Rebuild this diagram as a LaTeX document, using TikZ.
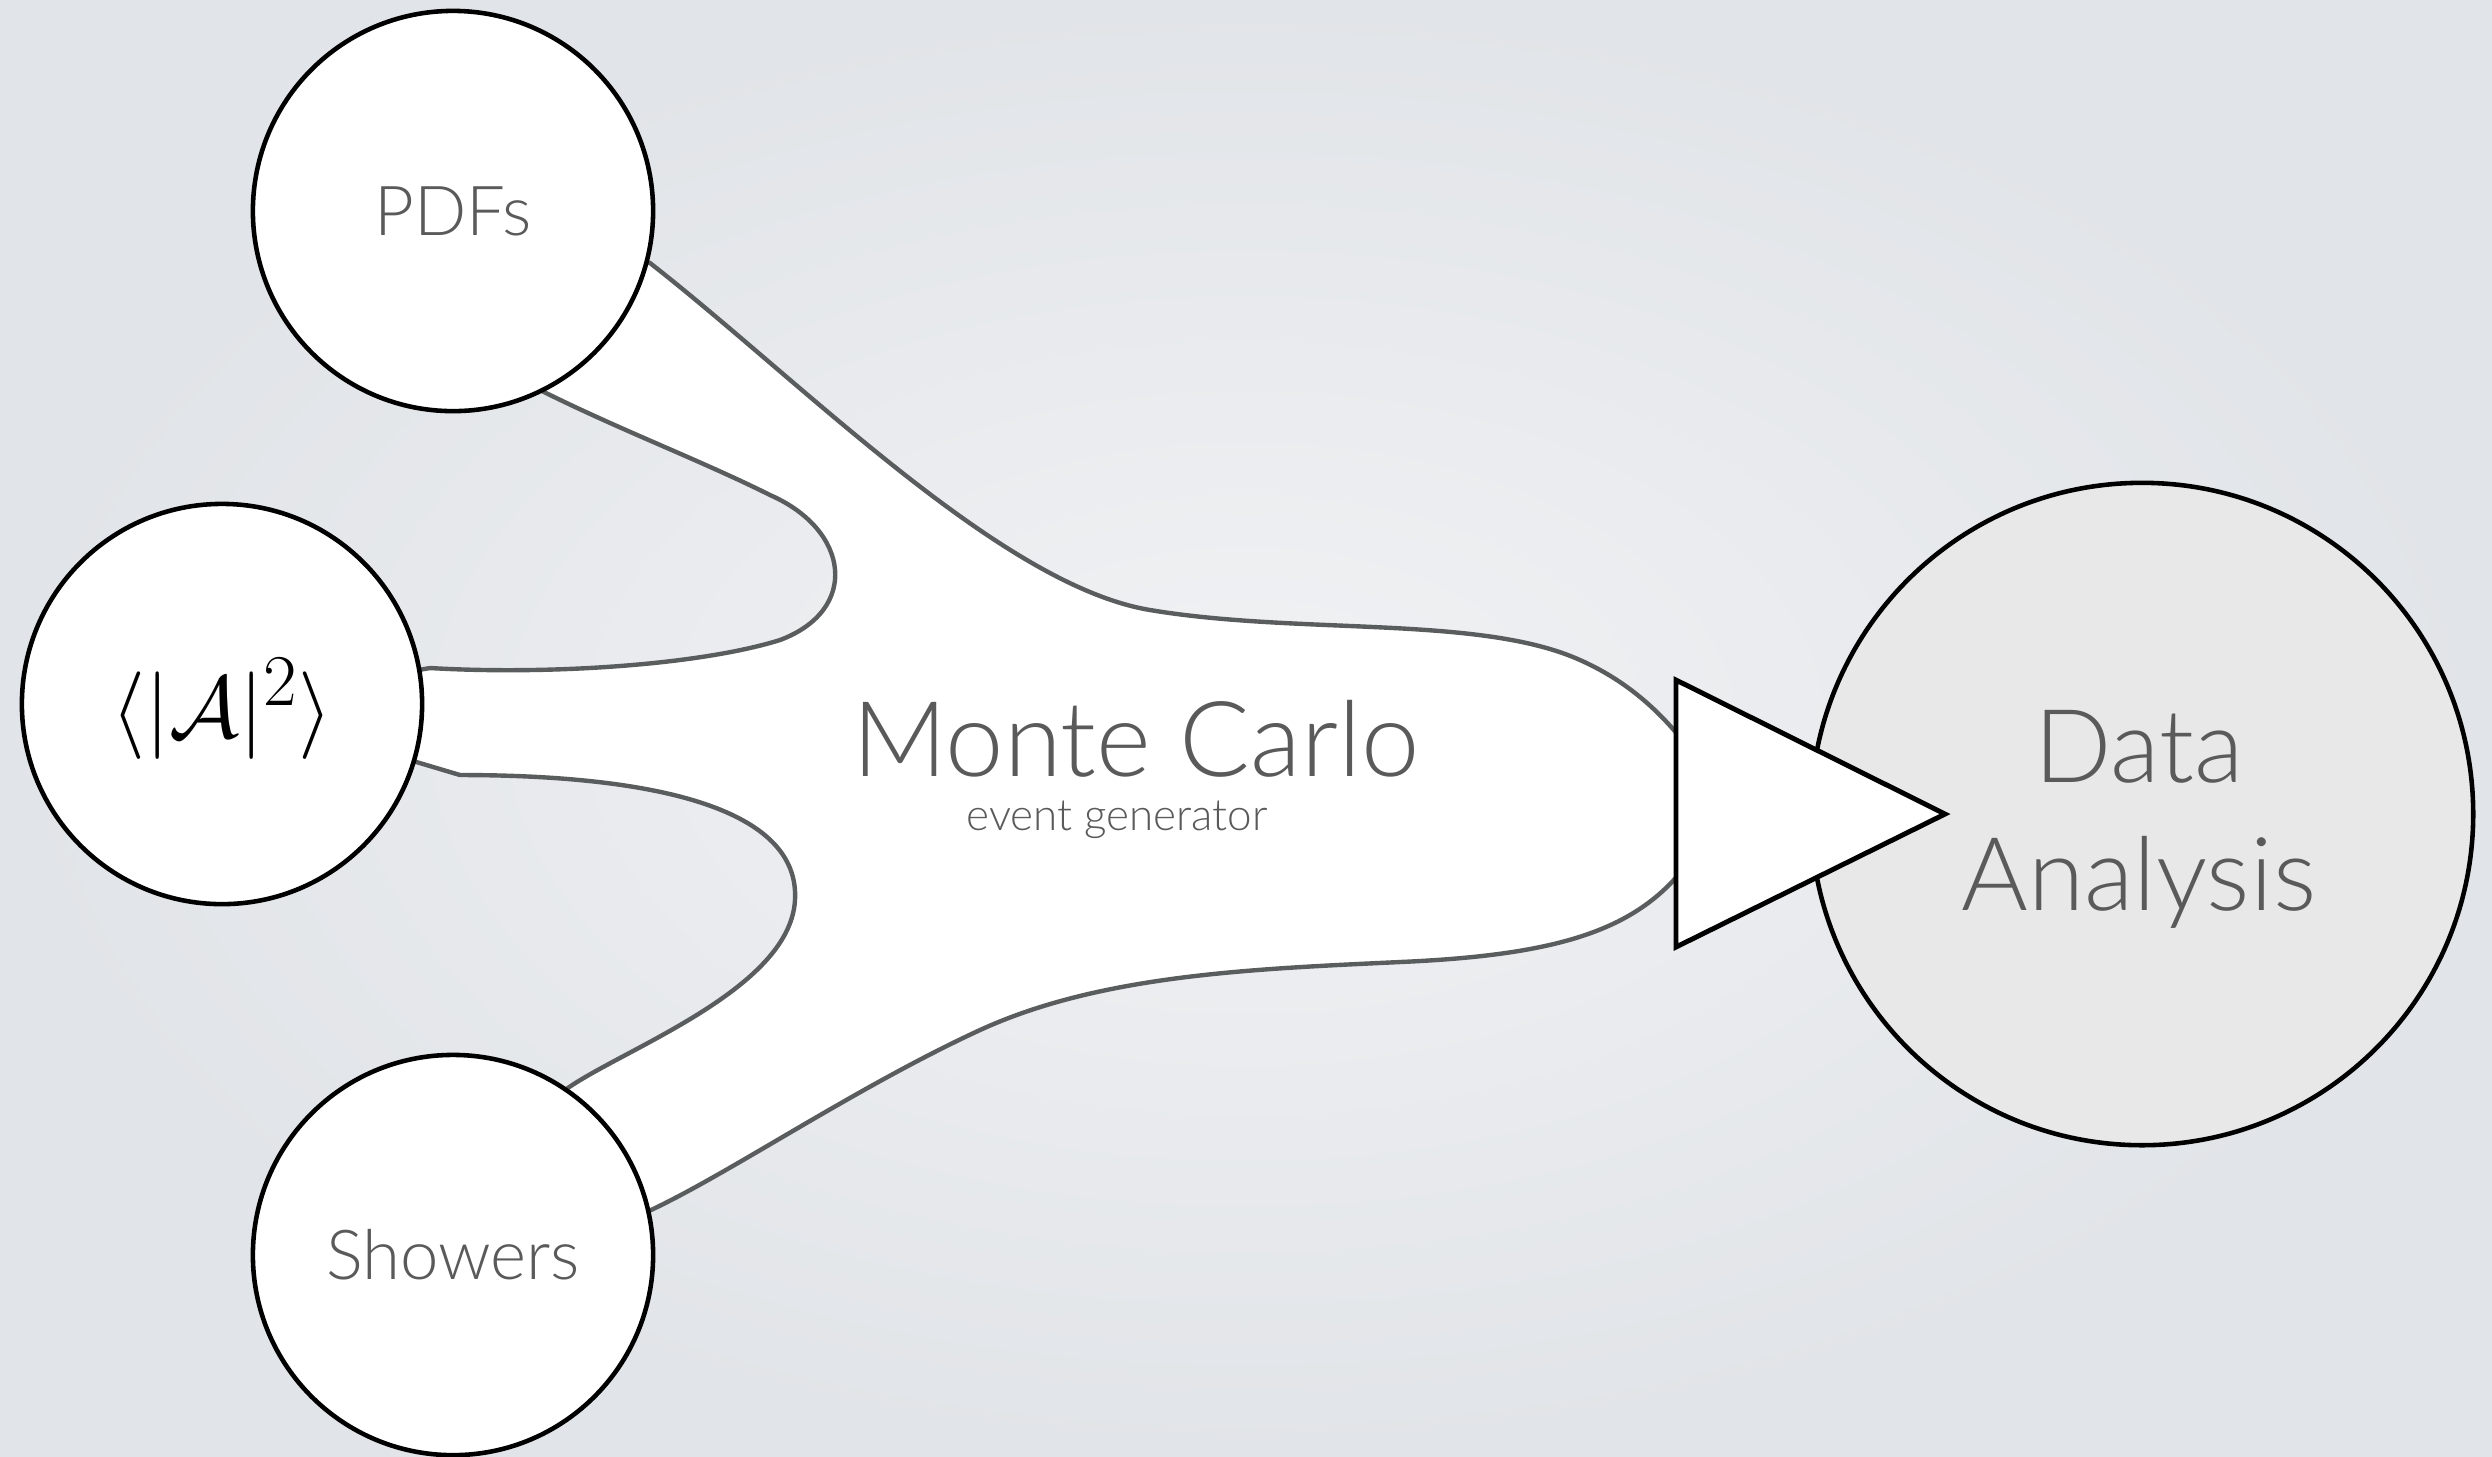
\documentclass[tikz,border=0pt]{standalone}
\usepackage{fontspec}
\newfontfamily\gill{Lato Light}
\definecolor{bgin}{HTML}{F1F2F4}
\definecolor{bgout}{HTML}{E1E4E8}
\definecolor{edge}{HTML}{5A5D5D}
\definecolor{txt}{HTML}{5A5A5A}
\definecolor{dafill}{HTML}{E8E8E8}
\tikzset{
  ball/.style={circle, draw=black, line width=1.3pt, fill=white, minimum size=4cm, inner sep=0pt},
  bigball/.style={ball, fill=dafill, minimum size=6.62cm},
  blob/.style={draw=edge, fill=white, line width=1.25pt, line join=round},
  tri/.style={draw=black, fill=white, line width=1.4pt, line join=miter},
  lbl/.style={text=txt, inner sep=0pt}
}
\begin{document}
\begin{tikzpicture}[x=0.01cm, y=-0.01cm]
  % background
  \fill[inner color=bgin, outer color=bgout] (0,0) rectangle (2492,1456);
  \useasboundingbox (0,0) rectangle (2492,1456);

  \coordinate (pdfc) at (453,211);
  \coordinate (ampc) at (222,704);
  \coordinate (shc)  at (453,1255);
  \coordinate (dac)  at (2142,814);

  % the Monte Carlo body joining the inputs to the output
  \draw[blob] (pdfc) -- (650,263)
    .. controls (800,380) and (1000,585) .. (1150,610)
    .. controls (1300,635) and (1480,615) .. (1580,660)
    .. controls (1625,680) and (1660,710) .. (1690,750)
    -- (1690,860)
    .. controls (1640,930) and (1560,955) .. (1400,962)
    .. controls (1250,969) and (1100,975) .. (980,1030)
    .. controls (850,1090) and (720,1180) .. (640,1215)
    -- (shc) -- (565,1090)
    .. controls (620,1050) and (790,990) .. (795,900)
    .. controls (800,810) and (660,775) .. (460,775)
    -- (ampc) -- (430,668)
    .. controls (550,675) and (700,665) .. (780,640)
    .. controls (860,610) and (850,530) .. (770,495)
    .. controls (700,460) and (620,430) .. (540,390)
    -- cycle;

  % inputs
  \node[ball] (pdf) at (pdfc) {};
  \node[ball] (amp) at (ampc) {};
  \node[ball] (sh)  at (shc) {};
  \node[lbl, font=\gill\fontsize{19.6}{19.6}\selectfont] (pdft) at (pdfc) {PDFs};
  \node[lbl, font=\gill\fontsize{19.6}{19.6}\selectfont] (sht) at (shc) {Showers};
  \node[inner sep=0pt, font=\fontsize{32}{32}\selectfont] (ampt) at ([yshift=-0.05cm]ampc) {$\langle|\mathcal{A}|^2\rangle$};

  % output
  \node[bigball] (da) at (dac) {};
  \coordinate (t1) at (1676,680);
  \coordinate (t2) at (1945,814);
  \coordinate (t3) at (1676,947);
  \draw[tri] (t1) -- (t2) -- (t3) -- cycle;
  \node[lbl, anchor=base, font=\gill\fontsize{29}{29}\selectfont] (dat1) at (2139,782) {Data};
  \node[lbl, anchor=base, font=\gill\fontsize{29}{29}\selectfont] (dat2) at (2139,910) {Analysis};

  % centre labels
  \node[lbl, anchor=base, font=\gill\fontsize{29.8}{29.8}\selectfont] (mc) at (1136,776) {Monte Carlo};
  \node[lbl, anchor=base, font=\gill\fontsize{12.5}{12.5}\selectfont] (eg) at (1117,830) {event generator};
\end{tikzpicture}
\end{document}
